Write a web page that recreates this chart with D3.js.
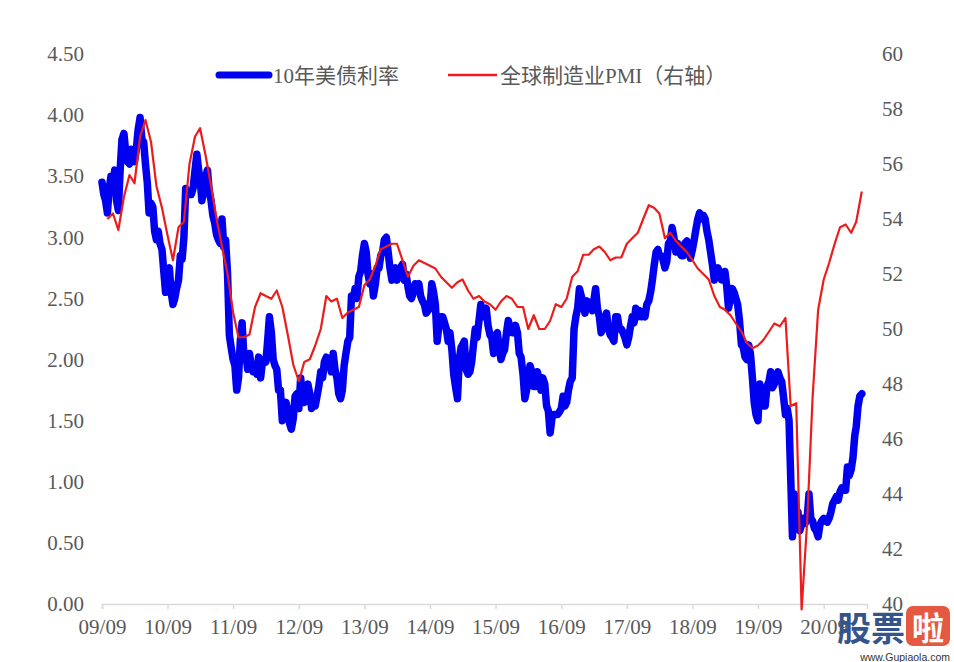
<!DOCTYPE html>
<html>
<head>
<meta charset="utf-8">
<script src="https://cdn.jsdelivr.net/npm/d3@7"></script>
<style>
  body { margin: 0; background: #fff; }
  text { font-family: "Liberation Serif", "Noto Sans CJK SC", serif; }
</style>
</head>
<body>
<div id="chart"></div>
<script>
// 10年美债利率, three readings per month (1st, 11th, 21st), from 2009/09
var y2009 = [3.45,3.35,3.30, 3.20,3.40,3.50, 3.45,3.55,3.30, 3.22,3.55,3.80];
var y2010 = [3.85,3.70,3.62, 3.60,3.72,3.65, 3.62,3.72,3.88, 3.98,3.80,3.78,
             3.60,3.45,3.20, 3.28,3.25,3.05, 2.98,3.05,2.95, 2.90,2.72,2.55,
             2.70,2.75,2.55, 2.45,2.50,2.58, 2.65,2.85,2.82, 3.00,3.40,3.35];
var y2011 = [3.35,3.35,3.40, 3.55,3.68,3.55, 3.48,3.30,3.38, 3.50,3.55,3.38,
             3.30,3.18,3.12, 3.02,2.98,2.95, 3.15,2.92,2.98, 2.70,2.20,2.10,
             2.00,1.95,1.75, 1.85,2.15,2.30, 2.00,2.05,1.92, 2.05,1.95,1.90];
var y2012 = [1.95,1.88,2.02, 1.85,1.98,2.00, 1.98,2.15,2.35, 2.22,2.00,1.95,
             1.92,1.75,1.75, 1.50,1.62,1.65, 1.58,1.48,1.43, 1.52,1.70,1.72,
             1.60,1.85,1.70, 1.65,1.75,1.80, 1.72,1.60,1.66, 1.62,1.70,1.78];
var y2013 = [1.90,1.85,1.98, 2.02,2.00,1.95, 1.90,2.05,1.92, 1.85,1.72,1.68,
             1.75,1.95,2.05, 2.15,2.18,2.52, 2.50,2.58,2.50, 2.68,2.72,2.85,
             2.95,2.88,2.70, 2.62,2.70,2.52, 2.62,2.75,2.75, 2.85,2.88,2.98];
var y2014 = [3.00,2.88,2.75, 2.65,2.72,2.75, 2.65,2.72,2.75, 2.78,2.65,2.70,
             2.60,2.52,2.50, 2.55,2.62,2.60, 2.62,2.52,2.48, 2.45,2.38,2.40,
             2.42,2.62,2.55, 2.45,2.15,2.28, 2.35,2.35,2.30, 2.25,2.15,2.22];
var y2015 = [2.08,1.88,1.78, 1.68,2.00,2.10, 2.12,2.15,1.92, 1.88,1.90,1.98,
             2.12,2.25,2.18, 2.32,2.45,2.35, 2.38,2.42,2.28, 2.20,2.18,2.05,
             2.20,2.22,2.10, 2.00,2.05,2.08, 2.22,2.32,2.25, 2.22,2.22,2.28];
var y2016 = [2.22,2.05,2.02, 1.88,1.68,1.75, 1.85,1.95,1.90, 1.78,1.78,1.90,
             1.82,1.75,1.85, 1.80,1.62,1.58, 1.40,1.52,1.55, 1.55,1.55,1.57,
             1.60,1.70,1.62, 1.65,1.75,1.82, 1.85,2.25,2.35, 2.42,2.58,2.52];
var y2017 = [2.45,2.38,2.48, 2.47,2.45,2.40, 2.48,2.58,2.42, 2.35,2.22,2.30,
             2.32,2.38,2.25, 2.20,2.18,2.15, 2.35,2.35,2.25, 2.25,2.22,2.18,
             2.12,2.18,2.27, 2.35,2.30,2.42, 2.35,2.40,2.35, 2.37,2.35,2.45];
var y2018 = [2.48,2.55,2.65, 2.78,2.88,2.90, 2.85,2.85,2.82, 2.75,2.80,2.95,
             2.97,3.08,3.00, 2.88,2.95,2.88, 2.85,2.85,2.95, 2.97,2.90,2.83,
             2.90,2.98,3.07, 3.15,3.20,3.15, 3.18,3.15,3.05, 2.98,2.88,2.78];
var y2019 = [2.65,2.72,2.75, 2.70,2.65,2.65, 2.72,2.60,2.42, 2.50,2.58,2.55,
             2.50,2.45,2.32, 2.12,2.10,2.02, 2.00,2.12,2.05, 1.85,1.65,1.55,
             1.50,1.80,1.72, 1.62,1.62,1.78, 1.82,1.90,1.77, 1.80,1.85,1.90];
var y2020 = [1.85,1.82,1.70, 1.55,1.60,1.50, 1.05,0.55,0.90, 0.65,0.75,0.60,
             0.65,0.70,0.66, 0.70,0.90,0.70, 0.68,0.62,0.60, 0.55,0.65,0.68,
             0.70,0.68,0.67, 0.70,0.75,0.82, 0.85,0.88,0.85, 0.92,0.95,0.93];
var y2021 = [0.93,1.12,1.05, 1.10,1.20,1.38, 1.45,1.62,1.70, 1.72];

// 全球制造业PMI, monthly from 2009/09 (drawn at month end)
var pmi = [54.0,54.2,53.6,54.8,55.6,55.3,57.0,57.6,56.8,55.2,54.4,53.4,
           52.5,53.7,53.9,56.0,57.0,57.3,56.3,55.2,54.0,53.0,52.0,50.6,
           49.7,49.7,49.8,50.8,51.3,51.2,51.1,51.4,50.8,49.8,48.7,48.1,
           48.8,48.9,49.4,50.0,51.2,51.0,51.1,50.4,50.6,50.7,50.8,51.6,
           51.8,52.3,52.9,53.0,53.1,53.1,52.5,51.9,52.3,52.5,52.4,52.3,
           52.2,51.9,51.7,51.5,51.7,51.8,51.4,51.1,51.2,51.0,50.9,50.7,
           51.0,51.2,51.1,50.8,50.8,50.0,50.5,50.0,50.0,50.3,50.9,50.8,
           51.1,51.9,52.1,52.7,52.7,52.9,53.0,52.8,52.5,52.6,52.6,53.1,
           53.3,53.5,54.0,54.5,54.4,54.2,53.3,53.5,53.2,53.0,52.8,52.5,
           52.2,52.0,51.8,51.2,50.8,50.7,50.5,50.2,49.9,49.5,49.3,49.4,
           49.6,49.9,50.2,50.1,50.4,47.2,47.3,39.8,43.0,47.5,50.7,51.8,
           52.4,53.1,53.7,53.8,53.5,53.9,55.0];

var xTickLabels = ["09/09","10/09","11/09","12/09","13/09","14/09","15/09",
                   "16/09","17/09","18/09","19/09","20/09"];
var leftTicks = [0,0.5,1,1.5,2,2.5,3,3.5,4,4.5];
var rightTicks = [40,42,44,46,48,50,52,54,56,58,60];
var seriesNames = ["10年美债利率", "全球制造业PMI（右轴）"];

var width = 954, height = 662;
var blue = "#0000f0", red = "#ec1c1c", grey = "#595959";

var yields = [].concat(y2009, y2010, y2011, y2012, y2013, y2014, y2015,
                       y2016, y2017, y2018, y2019, y2020, y2021);
var yieldData = yields.map(function(v, i) {
    return { date: new Date(2009, 8 + Math.floor(i / 3), 1 + (i % 3) * 10), v: v };
});
var pmiData = pmi.map(function(v, i) {
    return { date: new Date(2009, 9 + i, 1), v: v };
});

var svg = d3.select("#chart").append("svg")
    .attr("width", width)
    .attr("height", height);

svg.append("rect").attr("width", width).attr("height", height).attr("fill", "#fff");

var x = d3.scaleTime()
    .domain([new Date(2009, 8, 1), new Date(2021, 3, 30)])
    .range([102, 867]);
var yL = d3.scaleLinear().domain([0, 4.5]).range([604, 54]);
var yR = d3.scaleLinear().domain([40, 60]).range([604, 54]);

var parseTick = d3.timeParse("%y/%m");

// x axis
var xAxis = svg.append("g")
    .attr("transform", "translate(0,604)")
    .call(d3.axisBottom(x)
        .tickValues(xTickLabels.map(parseTick))
        .tickFormat(d3.timeFormat("%y/%m"))
        .tickSizeOuter(0)
        .tickSize(5)
        .tickPadding(10));
xAxis.select(".domain").attr("stroke", "#d9d9d9").attr("stroke-width", 1.5);
xAxis.selectAll(".tick line").attr("stroke", "#d9d9d9").attr("stroke-width", 1.5);
xAxis.selectAll(".tick text")
    .attr("fill", grey)
    .style("font-size", "21px")
    .style("font-family", "Liberation Serif");

// left axis
var lAxis = svg.append("g")
    .attr("transform", "translate(84,0)")
    .call(d3.axisLeft(yL).tickValues(leftTicks).tickFormat(d3.format(".2f")).tickSize(0).tickPadding(0));
lAxis.select(".domain").remove();
lAxis.selectAll(".tick text")
    .attr("fill", grey)
    .style("font-size", "21px")
    .style("font-family", "Liberation Serif");

// right axis
var rAxis = svg.append("g")
    .attr("transform", "translate(882,0)")
    .call(d3.axisRight(yR).tickValues(rightTicks).tickSize(0).tickPadding(0));
rAxis.select(".domain").remove();
rAxis.selectAll(".tick text")
    .attr("fill", grey)
    .style("font-size", "21px")
    .style("font-family", "Liberation Serif");

// lines
var lineL = d3.line().x(function(d) { return x(d.date); }).y(function(d) { return yL(d.v); });
var lineR = d3.line().x(function(d) { return x(d.date); }).y(function(d) { return yR(d.v); });

svg.append("path")
    .datum(yieldData)
    .attr("d", lineL)
    .attr("fill", "none")
    .attr("stroke", blue)
    .attr("stroke-width", 7.5)
    .attr("stroke-linejoin", "round")
    .attr("stroke-linecap", "round");

svg.append("path")
    .datum(pmiData)
    .attr("d", lineR)
    .attr("fill", "none")
    .attr("stroke", red)
    .attr("stroke-width", 2.2)
    .attr("stroke-linejoin", "round");

// legend
var legend = svg.append("g");
legend.append("line")
    .attr("x1", 219).attr("x2", 269).attr("y1", 75).attr("y2", 75)
    .attr("stroke", blue).attr("stroke-width", 7).attr("stroke-linecap", "round");
legend.append("text")
    .attr("x", 273).attr("y", 83)
    .attr("fill", grey)
    .style("font-size", "21px")
    .text(seriesNames[0]);
legend.append("line")
    .attr("x1", 448).attr("x2", 497).attr("y1", 75).attr("y2", 75)
    .attr("stroke", red).attr("stroke-width", 2.5);
legend.append("text")
    .attr("x", 500).attr("y", 83)
    .attr("fill", grey)
    .style("font-size", "21px")
    .text(seriesNames[1]);

// watermark
var wm = svg.append("g");
wm.append("text")
    .attr("x", 837).attr("y", 641)
    .attr("fill", "#35558a")
    .style("font-family", "Noto Sans CJK SC")
    .style("font-weight", "bold")
    .style("font-size", "34px")
    .text("股票");
wm.append("rect")
    .attr("x", 906).attr("y", 606).attr("width", 44).attr("height", 40).attr("rx", 7)
    .attr("fill", "#e4593f");
wm.append("text")
    .attr("x", 928).attr("y", 640)
    .attr("text-anchor", "middle")
    .attr("fill", "#fff")
    .style("font-family", "Noto Sans CJK SC")
    .style("font-weight", "bold")
    .style("font-size", "32px")
    .text("啦");
wm.append("text")
    .attr("x", 950).attr("y", 661)
    .attr("text-anchor", "end")
    .attr("fill", "#333")
    .style("font-family", "Liberation Sans")
    .style("font-size", "10.5px")
    .text("www.Gupiaola.com");
</script>
</body>
</html>
